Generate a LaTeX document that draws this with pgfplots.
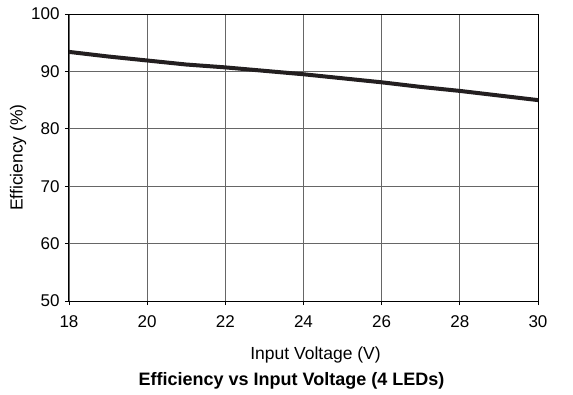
\documentclass[border=0pt]{standalone}
\usepackage{fontspec}
\setmainfont{Liberation Sans}
\usepackage{pgfplots}
\pgfplotsset{compat=1.18}
\definecolor{curve}{HTML}{231F20}
\definecolor{gridc}{HTML}{666666}
\begin{document}
\begin{tikzpicture}
\begin{axis}[
  scale only axis,
  width=469pt, height=287pt,
  xmin=18, xmax=30, ymin=50, ymax=100,
  xtick={18,20,...,30},
  ytick={50,60,...,100},
  grid=major,
  major grid style={gridc, line width=0.9pt},
  axis line style={black, line width=1pt},
  tick align=outside,
  tick pos=left,
  major tick length=4pt,
  tick style={black, line width=0.9pt},
  /pgf/number format/assume math mode=true,
  ticklabel style={font=\fontsize{17}{19}\selectfont},
  xticklabel style={yshift=-7pt},
  yticklabel style={xshift=-2pt},
  xlabel={Input Voltage (V)},
  ylabel={Efficiency (\%)},
  label style={font=\fontsize{17.5}{19}\selectfont},
  xlabel style={yshift=-12pt, xshift=12pt},
  ylabel style={yshift=-2pt},
]
\addplot[curve, line width=4pt] coordinates {
(18,93.4) (19,92.6) (20,91.9) (21,91.2) (22,90.7) (23,90.1)
(24,89.5) (25,88.8) (26,88.1) (27,87.3) (28,86.6) (29,85.8) (30,85.0)
};
\end{axis}
\node[font=\bfseries\fontsize{18}{20}\selectfont] at ([yshift=-80pt, xshift=-12pt]current axis.south) {Efficiency vs Input Voltage (4 LEDs)};
\path (current axis.south west) ++(-69pt,-93pt) rectangle ++(573pt,394pt);
\end{tikzpicture}
\end{document}
